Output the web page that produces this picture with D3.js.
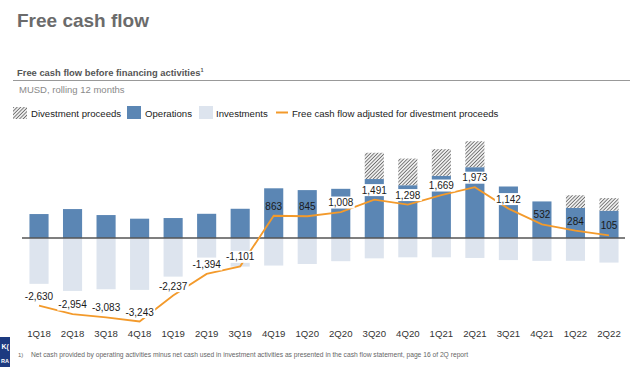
<!DOCTYPE html>
<html lang="en">
<head>
<meta charset="UTF-8">
<title>Free cash flow</title>
<script src="https://d3js.org/d3.v7.min.js"></script>
<style>
    body { margin: 0; background: white; font-family: "Liberation Sans", Arial, sans-serif; }
    svg { display: block; }
</style>
</head>
<body>
<svg width="640" height="368"></svg>
<script>
const quarters = ["1Q18","2Q18","3Q18","4Q18","1Q19","2Q19","3Q19","4Q19","1Q20",
                  "2Q20","3Q20","4Q20","1Q21","2Q21","3Q21","4Q21","1Q22","2Q22"];
const operations = [930, 1124, 891, 750, 775, 940, 1135, 1930, 1860,
                    1910, 2290, 2050, 2415, 2750, 2000, 1420, 1170, 1060];
const investments = [-1780, -2055, -1990, -2015, -1500, -760, -1110, -1070, -1010,
                     -900, -790, -750, -750, -775, -858, -888, -886, -955];
const divestments = [0, 0, 0, 0, 0, 0, 0, 0, 0,
                     0, 1020, 1035, 1035, 1008, 0, 0, 490, 490];
const fcfAdjusted = [-2630, -2954, -3083, -3243, -2237, -1394, -1101, 863, 845,
                     1008, 1491, 1298, 1669, 1973, 1142, 532, 284, 105];

const blue = "#5b86b4", light = "#dde4ee", orange = "#f39a2b";

const svg = d3.select("svg");
const fmt = v => d3.format(",")(v).replace("\u2212", "-");

// pattern for divestment proceeds
const defs = svg.append("defs");
const pat = defs.append("pattern")
    .attr("id", "hatch")
    .attr("patternUnits", "userSpaceOnUse")
    .attr("width", 2.5).attr("height", 2.5)
    .attr("patternTransform", "rotate(45)");
pat.append("rect").attr("width", 2.5).attr("height", 2.5).attr("fill", "#eeeeee");
pat.append("line").attr("x1", 0).attr("y1", 0).attr("x2", 0).attr("y2", 2.5)
    .attr("stroke", "#3a3a3a").attr("stroke-width", 1.2);

// titles
svg.append("text").attr("x", 17).attr("y", 27)
    .attr("font-size", 19).attr("font-weight", "bold").attr("fill", "#6b6b6b")
    .text("Free cash flow");

const sub = svg.append("text").attr("x", 17).attr("y", 76)
    .attr("font-size", 9.4).attr("font-weight", "bold").attr("fill", "#555");
sub.append("tspan").text("Free cash flow before financing activities");
sub.append("tspan").attr("font-size", 5.5).attr("dy", -4).text("1");

svg.append("line").attr("x1", 13).attr("x2", 630).attr("y1", 80.5).attr("y2", 80.5)
    .attr("stroke", "#999").attr("stroke-width", 1);

svg.append("text").attr("x", 19).attr("y", 93)
    .attr("font-size", 9.5).attr("fill", "#8a8a8a")
    .text("MUSD, rolling 12 months");

// legend
const lg = svg.append("g").attr("font-size", 9.6).attr("fill", "#222");
lg.append("rect").attr("x", 13).attr("y", 107).attr("width", 14).attr("height", 12).attr("fill", "url(#hatch)");
lg.append("text").attr("x", 31).attr("y", 116.5).text("Divestment proceeds");
lg.append("rect").attr("x", 127).attr("y", 106).attr("width", 14).attr("height", 13).attr("fill", blue);
lg.append("text").attr("x", 145).attr("y", 116.5).text("Operations");
lg.append("rect").attr("x", 199).attr("y", 106).attr("width", 14).attr("height", 13).attr("fill", light);
lg.append("text").attr("x", 216).attr("y", 116.5).text("Investments");
lg.append("line").attr("x1", 276).attr("x2", 288).attr("y1", 112.5).attr("y2", 112.5)
    .attr("stroke", orange).attr("stroke-width", 2);
lg.append("text").attr("x", 292).attr("y", 116.5).text("Free cash flow adjusted for divestment proceeds");

// scales
const x = d3.scaleBand().domain(quarters).range([22.25, 625.75])
    .paddingInner(0.43).paddingOuter(0.215);
const y = d3.scaleLinear().domain([-4000, 4000]).range([341, 135]);
const cx = q => x(q) + x.bandwidth() / 2;

const rows = quarters.map((q, i) => ({
    q, ops: operations[i], inv: investments[i], div: divestments[i], fcf: fcfAdjusted[i]
}));

const g = svg.append("g");

// investments (negative)
g.selectAll(".inv").data(rows).join("rect")
    .attr("x", d => x(d.q)).attr("width", x.bandwidth())
    .attr("y", y(0)).attr("height", d => y(d.inv) - y(0))
    .attr("fill", light);

// operations
g.selectAll(".ops").data(rows).join("rect")
    .attr("x", d => x(d.q)).attr("width", x.bandwidth())
    .attr("y", d => y(d.ops)).attr("height", d => y(0) - y(d.ops))
    .attr("fill", blue);

// divestments stacked on top
g.selectAll(".div").data(rows.filter(d => d.div > 0)).join("rect")
    .attr("x", d => x(d.q)).attr("width", x.bandwidth())
    .attr("y", d => y(d.ops + d.div)).attr("height", d => y(d.ops) - y(d.ops + d.div))
    .attr("fill", "url(#hatch)");

// zero line
svg.append("line").attr("x1", 22).attr("x2", 625)
    .attr("y1", y(0)).attr("y2", y(0))
    .attr("stroke", "#555").attr("stroke-width", 1.5);

// fcf line
svg.append("path").datum(rows)
    .attr("fill", "none").attr("stroke", orange).attr("stroke-width", 1.8)
    .attr("d", d3.line().x(d => cx(d.q)).y(d => y(d.fcf)));

// value labels
const labels = svg.append("g").attr("font-size", 10).attr("fill", "#1a1a1a")
    .attr("text-anchor", "middle");
rows.forEach(d => {
    const lab = labels.append("g");
    const t = lab.append("text")
        .attr("x", cx(d.q)).attr("y", y(d.fcf) - 9.5).attr("dy", "0.35em")
        .text(fmt(d.fcf));
    if (Math.abs(d.fcf) >= 1000) {
        const b = t.node().getBBox();
        lab.insert("rect", "text")
            .attr("x", b.x - 1).attr("y", b.y - 0.5)
            .attr("width", b.width + 2).attr("height", b.height + 1)
            .attr("fill", "white");
    }
});

// x axis labels
svg.append("g").attr("transform", "translate(0,337)")
    .call(d3.axisBottom(x).tickSize(0).tickPadding(0))
    .call(a => a.select(".domain").remove())
    .selectAll("text")
    .attr("dy", 0).attr("y", 0)
    .attr("font-size", 9.6).attr("fill", "#333")
    .attr("font-family", "Liberation Sans, Arial, sans-serif");

// footer
svg.append("rect").attr("x", 0).attr("y", 337).attr("width", 10).attr("height", 30).attr("fill", "#1d3a80");
svg.append("text").attr("x", 1).attr("y", 363).attr("font-size", 5.5).attr("font-weight", "bold")
    .attr("fill", "white").text("RA");
svg.append("text").attr("x", 1.5).attr("y", 349).attr("font-size", 7).attr("font-weight", "bold")
    .attr("fill", "white").text("K(");
svg.append("text").attr("x", 18).attr("y", 357).attr("font-size", 6).attr("fill", "#666").text("1)");
svg.append("text").attr("x", 31).attr("y", 357).attr("font-size", 6.7).attr("fill", "#666")
    .text("Net cash provided by operating activities minus net cash used in investment activities as presented in the cash flow statement, page 16 of 2Q report");
</script>
</body>
</html>
